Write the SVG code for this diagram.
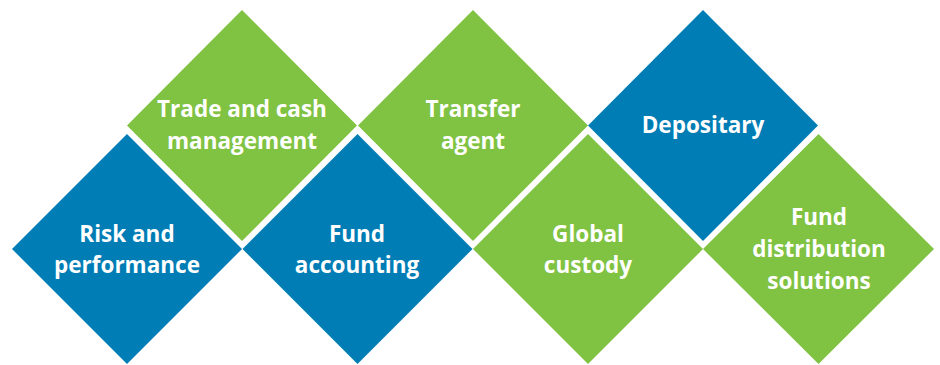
<svg xmlns="http://www.w3.org/2000/svg" width="940" height="365" viewBox="0 0 940 365">
<style>
.blue{fill:#017DB5}
.green{fill:#80C242}
text{font-family:"Open Sans","Noto Sans","Liberation Sans",sans-serif;font-weight:700;font-size:22.5px;fill:#fff;text-anchor:middle}
</style>
<rect width="940" height="365" fill="#fff"/>
<g id="connectors"></g>
<g id="risk"><polygon class="blue" points="127,134 242,249 127,364 12,249"/><text x="127" y="242">Risk and</text><text x="127" y="273">performance</text></g>
<g id="trade"><polygon class="green" points="242,10 357,125.5 242,241 127,125.5"/><text x="242" y="117">Trade and cash</text><text x="242" y="149">management</text></g>
<g id="fundacc"><polygon class="blue" points="357.5,134 472.5,249 357.5,364 242.5,249"/><text x="357" y="242">Fund</text><text x="357" y="273">accounting</text></g>
<g id="transfer"><polygon class="green" points="473,10 588,125.5 473,241 358,125.5"/><text x="473" y="117">Transfer</text><text x="473" y="149">agent</text></g>
<g id="global"><polygon class="green" points="588,134 703,249 588,364 473,249"/><text x="588" y="242">Global</text><text x="588" y="273">custody</text></g>
<g id="depositary"><polygon class="blue" points="703,10 818,125.5 703,241 588,125.5"/><text x="703" y="133">Depositary</text></g>
<g id="distribution"><polygon class="green" points="818.5,134 934,249 818.5,364 703,249"/><text x="819" y="225">Fund</text><text x="819" y="257">distribution</text><text x="819" y="289">solutions</text></g>
</svg>
